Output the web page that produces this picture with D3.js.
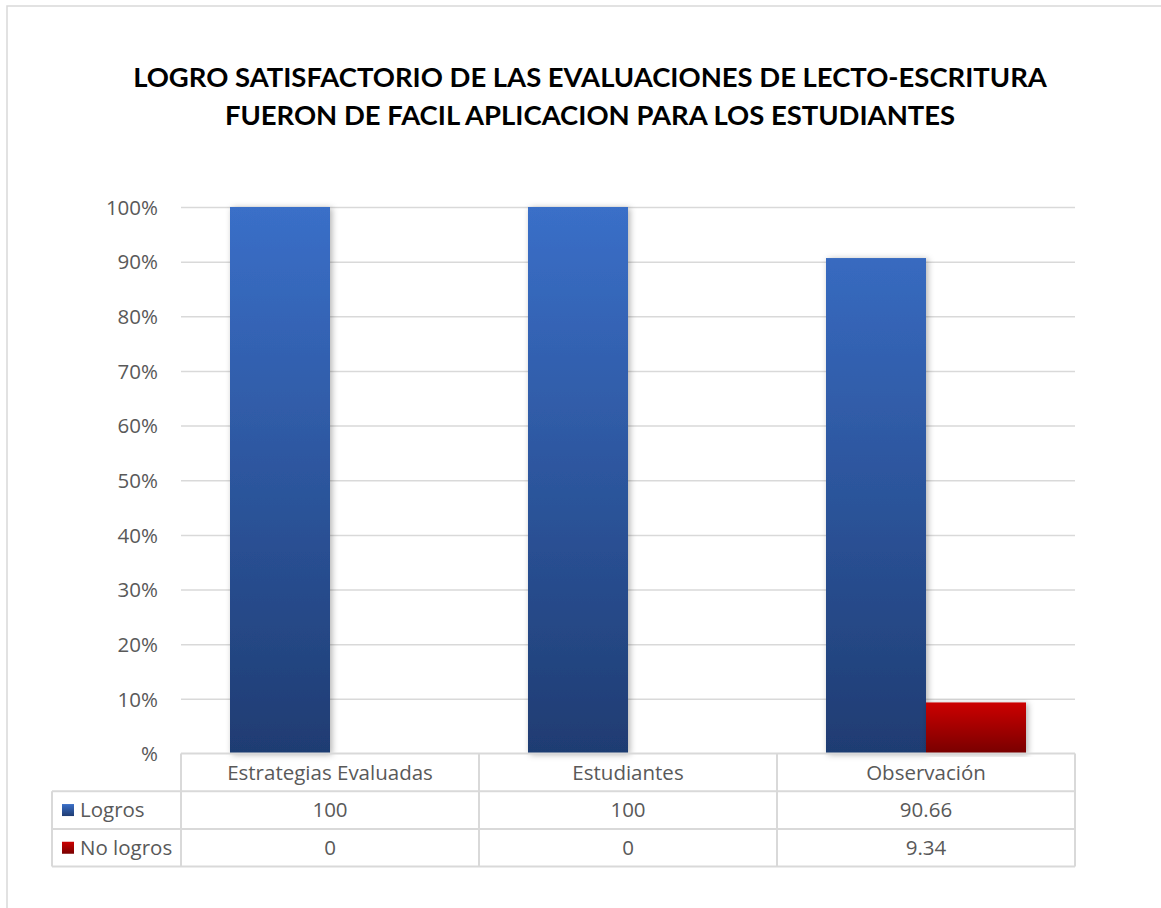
<!DOCTYPE html>
<html lang="es">
<head>
<meta charset="utf-8">
<title>Logro satisfactorio</title>
<script src="https://d3js.org/d3.v7.min.js"></script>
<style>
  body { margin: 0; background: #fff; }
  svg text { font-family: "Open Sans", Lato, sans-serif; }
  svg text.ttl { font-family: Lato, "Open Sans", sans-serif; }
</style>
</head>
<body>
<svg id="chart" width="1161" height="908"></svg>
<script>
// data
const categories = ["Estrategias Evaluadas", "Estudiantes", "Observación"];
const seriesNames = ["Logros", "No logros"];
const logros = [100, 100, 90.66];
const noLogros = [0, 0, 9.34];
const tickLabels = ["%", "10%", "20%", "30%", "40%", "50%", "60%", "70%", "80%", "90%", "100%"];
const titleLines = ["LOGRO SATISFACTORIO DE LAS EVALUACIONES DE LECTO-ESCRITURA",
                    "FUERON DE FACIL APLICACION PARA LOS ESTUDIANTES"];

const svg = d3.select("#chart");
const plotLeft = 181, plotRight = 1075, plotTop = 207, plotBottom = 753.5;
const rowH = 37.7, legendLeft = 52;
const gridColor = "#d9d9d9", textColor = "#595959";

// outer frame
svg.append("rect").attr("x", 7).attr("y", 6).attr("width", 1170).attr("height", 920)
  .attr("fill", "none").attr("stroke", "#d9d9d9").attr("stroke-width", 1.5);

// gradients
const defs = svg.append("defs");
function grad(id, c1, c2) {
  const g = defs.append("linearGradient").attr("id", id)
    .attr("x1", 0).attr("y1", 0).attr("x2", 0).attr("y2", 1);
  g.append("stop").attr("offset", "0%").attr("stop-color", c1);
  g.append("stop").attr("offset", "100%").attr("stop-color", c2);
  return g;
}
// blue one spans whole plot height so the shorter bar keeps the same shading
grad("gBlue", "#3a6fc8", "#1f3c72").attr("gradientUnits", "userSpaceOnUse")
  .attr("x1", 0).attr("y1", plotTop).attr("x2", 0).attr("y2", plotBottom);
grad("gRed", "#cc0000", "#780000");
grad("gBlueKey", "#3a6fc8", "#1f3c72");
const shadow = defs.append("filter").attr("id", "sh").attr("x", "-20%").attr("y", "-5%")
  .attr("width", "140%").attr("height", "110%");
shadow.append("feDropShadow").attr("dx", 2).attr("dy", 1).attr("stdDeviation", 3)
  .attr("flood-color", "#000").attr("flood-opacity", 0.3);

// title
const title = svg.append("g");
const t1 = title.append("text").attr("class", "ttl").attr("x", 590).attr("y", 87).attr("text-anchor", "middle")
  .attr("font-weight", "bold").attr("font-size", 28).attr("fill", "#000").text(titleLines[0]);
const w1 = t1.node().getComputedTextLength();
const fs = 28 * 914 / w1;
t1.attr("font-size", fs);
title.append("text").attr("class", "ttl").attr("x", 590).attr("y", 125).attr("text-anchor", "middle")
  .attr("font-weight", "bold").attr("font-size", fs).attr("fill", "#000").text(titleLines[1]);

// scales
const y = d3.scaleLinear().domain([0, 100]).range([plotBottom, plotTop]);
const x0 = d3.scaleBand().domain(categories).range([plotLeft, plotRight]);
const x1 = d3.scaleBand().domain(seriesNames).range([0, 200]);

// gridlines + y axis
const yAxis = d3.axisLeft(y).tickValues(d3.range(0, 101, 10))
  .tickSize(-(plotRight - plotLeft)).tickFormat((d, i) => tickLabels[i]);
const ga = svg.append("g").attr("transform", `translate(${plotLeft},0)`).call(yAxis);
ga.select(".domain").remove();
ga.selectAll(".tick line").attr("stroke", gridColor).attr("stroke-width", 1.5);
ga.selectAll(".tick text").attr("x", -23).attr("dy", "0.35em")
  .attr("fill", textColor).attr("font-size", 20.5);
ga.selectAll(".tick").filter(d => d === 0).select("line").remove();

// bars
const rows = categories.map((c, i) => ({ cat: c, vals: [logros[i], noLogros[i]] }));
const groups = svg.append("g").selectAll("g").data(rows).join("g")
  .attr("transform", d => `translate(${x0(d.cat) + (x0.bandwidth() - 200) / 2},0)`);
groups.selectAll("rect").data(d => d.vals.map((v, j) => ({ s: seriesNames[j], v })).filter(d => d.v > 0))
  .join("rect")
  .attr("x", d => x1(d.s)).attr("width", x1.bandwidth())
  .attr("y", d => y(d.v)).attr("height", d => y(0) - y(d.v))
  .attr("fill", d => d.s === "Logros" ? "url(#gBlue)" : "url(#gRed)")
  .attr("filter", "url(#sh)");

// data table
const tbl = svg.append("g").attr("stroke", gridColor).attr("stroke-width", 2).attr("fill", "none");
const tBottom = plotBottom + rowH * 3;
tbl.append("line").attr("x1", plotLeft).attr("x2", plotRight).attr("y1", plotBottom).attr("y2", plotBottom);
[1, 2, 3].forEach(k => tbl.append("line").attr("x1", legendLeft).attr("x2", plotRight)
  .attr("y1", plotBottom + rowH * k).attr("y2", plotBottom + rowH * k));
tbl.append("line").attr("x1", legendLeft).attr("x2", legendLeft)
  .attr("y1", plotBottom + rowH).attr("y2", tBottom);
categories.forEach(c => tbl.append("line").attr("x1", x0(c)).attr("x2", x0(c))
  .attr("y1", plotBottom).attr("y2", tBottom));
tbl.append("line").attr("x1", plotRight).attr("x2", plotRight).attr("y1", plotBottom).attr("y2", tBottom);

const txt = svg.append("g").attr("fill", textColor).attr("font-size", 20.5);
categories.forEach(c => txt.append("text").attr("x", x0(c) + x0.bandwidth() / 2)
  .attr("y", plotBottom + rowH / 2).attr("dy", "0.35em").attr("text-anchor", "middle").text(c));
[logros, noLogros].forEach((arr, r) => {
  const ky = plotBottom + rowH * (r + 1.5);
  arr.forEach((v, i) => txt.append("text").attr("x", x0(categories[i]) + x0.bandwidth() / 2)
    .attr("y", ky).attr("dy", "0.35em").attr("text-anchor", "middle").text(v));
  svg.append("rect").attr("x", 62).attr("y", ky - 6).attr("width", 12).attr("height", 12)
    .attr("fill", r === 0 ? "url(#gBlueKey)" : "url(#gRed)");
  txt.append("text").attr("x", 80).attr("y", ky).attr("dy", "0.35em").text(seriesNames[r]);
});
</script>
</body>
</html>
